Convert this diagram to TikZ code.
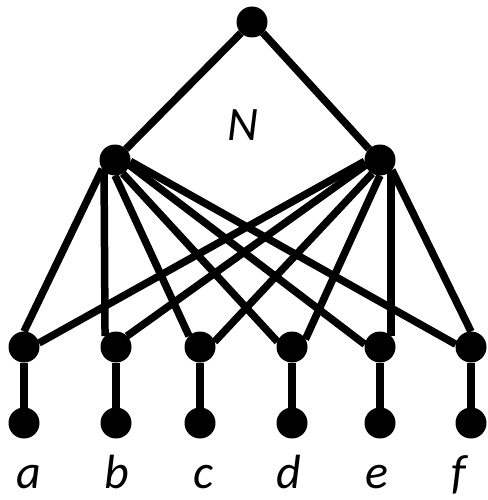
\documentclass[tikz,border=0pt]{standalone}
\usepackage{fontspec}
\setmainfont{Carlito}
\usetikzlibrary{backgrounds}
\begin{document}
\begin{tikzpicture}[x=1pt,y=-1pt,
  dot/.style={circle,fill=black,inner sep=0pt,outer sep=0pt,minimum size=31pt},
  edge/.style={line width=7.5pt,black},
  lab/.style={anchor=base,inner sep=0pt,font=\fontsize{48}{56}\selectfont\itshape}]
\useasboundingbox (0,0) rectangle (487,500);
\node[dot] (T) at (252,22) {};
\node[dot] (L) at (115,160) {};
\node[dot] (R) at (380,160) {};
\foreach \n/\x in {a/24,b/116,c/200,d/292,e/380,f/471}{
  \node[dot] (m\n) at (\x,347) {};
  \node[dot] (l\n) at (\x,423) {};
}
\foreach \n/\x in {a/29,b/117,c/203,d/289,e/377,f/459}{
  \node[lab] (t\n) at (\x,488) {\n};
}
\node[lab] (N) at (243,140) {N};
\begin{scope}[on background layer]
\draw[edge] (T.south west) -- (L.north east);
\draw[edge] (T.south east) -- (R.north west);
\draw[edge] (L.215) -- (ma.north);
\draw[edge] (L.south west) -- (mb.north west);
\draw[edge] (L.south) -- (mc.north west);
\draw[edge] (L.300) -- (md.160);
\draw[edge] (L.340) -- (me.170);
\draw[edge] (L.355) -- (mf.170);
\draw[edge] (R.185) -- (ma.15);
\draw[edge] (R.200) -- (mb.north east);
\draw[edge] (R.240) -- (mc.20);
\draw[edge] (R.south) -- (md.30);
\draw[edge] (R.south east) -- (me.north east);
\draw[edge] (R.320) -- (mf.north);
\foreach \n in {a,b,c,d,e,f}{
  \draw[edge] (m\n.south) -- (l\n.north);
}
\end{scope}
\end{tikzpicture}
\end{document}
